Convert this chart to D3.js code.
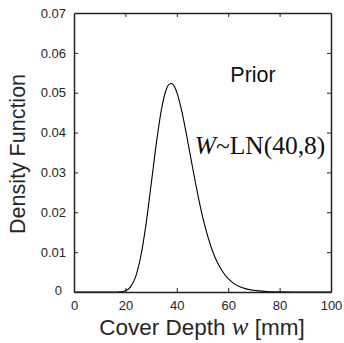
<!DOCTYPE html>
<html><head><meta charset="utf-8">
<script src="https://cdn.jsdelivr.net/npm/d3@7"></script>
<style>body{margin:0;background:#fff}svg{display:block}</style>
</head><body><svg id="c" width="344" height="343"></svg>
<script>
// Data (density curve of cover depth)
const depth =   [0, 10, 15, 18, 20, 22, 24, 26, 28, 30, 32, 34, 36, 37, 38, 39, 40, 42, 44, 46, 48, 50, 52, 54, 56, 58, 60, 62, 65, 70, 75, 80, 90, 100];
const density = [0, 0, 0.000001, 0.00005, 0.00031, 0.00129, 0.00387, 0.00898, 0.0169, 0.0269, 0.0371, 0.0457, 0.0510, 0.0521, 0.0523, 0.0516, 0.0501, 0.0452, 0.0387, 0.0317, 0.0250, 0.0190, 0.0141, 0.0101, 0.00714, 0.00494, 0.00335, 0.00224, 0.0012, 0.0004, 0.00013, 0.00004, 0, 0];
const xTicks = [0, 20, 40, 60, 80, 100];
const yTicks = [0, 0.01, 0.02, 0.03, 0.04, 0.05, 0.06, 0.07];
const yTickLabels = ["0", "0.01", "0.02", "0.03", "0.04", "0.05", "0.06", "0.07"];

const svg = d3.select("#c");
const L = 74, R = 331, T = 13, B = 292;
const x = d3.scaleLinear().domain([0, 100]).range([L, R]);
const y = d3.scaleLinear().domain([0, 0.07]).range([B, T]);
const sans = "'Liberation Sans', Arial, sans-serif";
const serif = "'Liberation Serif', 'Times New Roman', serif";
const axisCol = "#222";
const textCol = "#262626";

// curve
svg.append("path")
  .datum(depth.map((d, i) => [d, density[i]]))
  .attr("fill", "none").attr("stroke", "#000").attr("stroke-width", 1.1)
  .attr("d", d3.line().x(d => x(d[0])).y(d => y(d[1])).curve(d3.curveMonotoneX));

// axes (ticks inward, mirrored box)
const tk = 4;
const gB = svg.append("g").attr("transform", `translate(0,${B})`)
  .call(d3.axisBottom(x).tickValues(xTicks).tickSizeInner(-tk).tickSizeOuter(0).tickPadding(9));
const gT = svg.append("g").attr("transform", `translate(0,${T})`)
  .call(d3.axisTop(x).tickValues(xTicks).tickSizeInner(-tk).tickSizeOuter(0).tickFormat(""));
const gL = svg.append("g").attr("transform", `translate(${L},0)`)
  .call(d3.axisLeft(y).tickValues(yTicks).tickSizeInner(-tk).tickSizeOuter(0).tickPadding(8)
    .tickFormat((d, i) => yTickLabels[i]));
const gR = svg.append("g").attr("transform", `translate(${R},0)`)
  .call(d3.axisRight(y).tickValues(yTicks).tickSizeInner(-tk).tickSizeOuter(0).tickFormat(""));
[gB, gT, gL, gR].forEach(g => {
  g.select(".domain").attr("stroke", axisCol).attr("stroke-width", 1.5);
  g.selectAll(".tick line").attr("stroke", axisCol).attr("stroke-width", 1);
  g.selectAll("text").attr("font-family", sans).attr("font-size", 13).attr("fill", textCol);
});
gL.selectAll(".tick").filter(d => d === 0).select("text").attr("dx", -4).attr("dy", "0.2em");
gB.selectAll(".tick line").filter(d => d === 0 || d === 100).remove();
gT.selectAll(".tick line").filter(d => d === 0 || d === 100).remove();
gL.selectAll(".tick line").filter(d => d === 0 || d === 0.07).remove();
gR.selectAll(".tick line").filter(d => d === 0 || d === 0.07).remove();

// axis labels
svg.append("text").attr("transform", `translate(25,154) rotate(-90)`)
  .attr("text-anchor", "middle").attr("font-family", sans).attr("font-size", 21.5)
  .attr("fill", textCol).text("Density Function");
const xl = svg.append("text").attr("x", 202).attr("y", 335).attr("text-anchor", "middle")
  .attr("font-family", sans).attr("font-size", 22.5).attr("fill", textCol);
xl.append("tspan").text("Cover Depth ");
xl.append("tspan").attr("font-family", serif).attr("font-style", "italic").attr("font-size", 25).text("w");
xl.append("tspan").text(" [mm]");

// annotations
svg.append("text").attr("x", 253).attr("y", 82).attr("text-anchor", "middle")
  .attr("font-family", sans).attr("font-size", 21.5).attr("fill", "#111").text("Prior");
const ann = svg.append("text").attr("x", 260).attr("y", 154).attr("text-anchor", "middle")
  .attr("font-family", serif).attr("font-size", 25.5).attr("fill", "#111");
ann.append("tspan").attr("font-style", "italic").text("W");
ann.append("tspan").text("~LN(40,8)");
</script></body></html>
